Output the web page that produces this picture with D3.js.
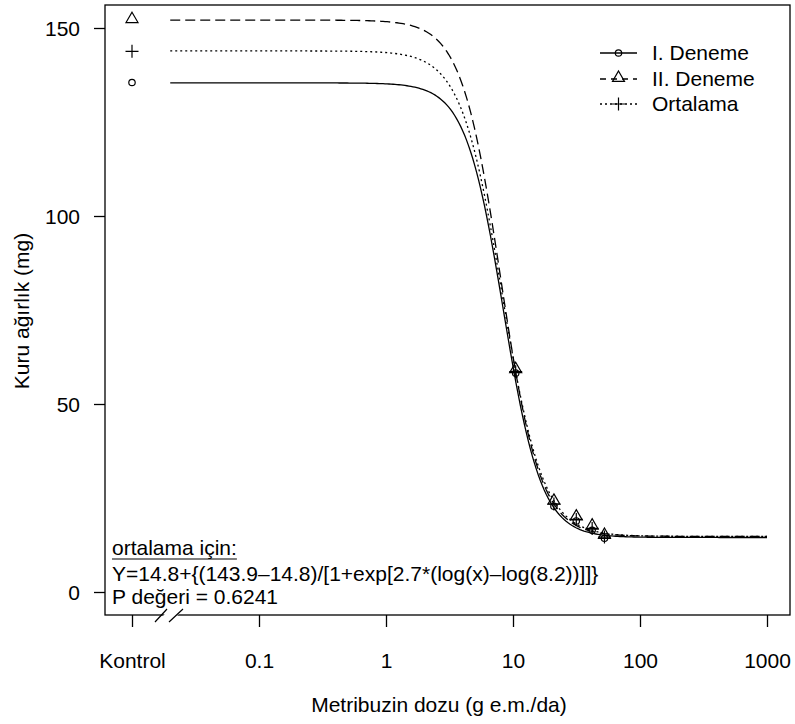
<!DOCTYPE html>
<html>
<head>
<meta charset="utf-8">
<script src="https://cdn.jsdelivr.net/npm/d3@7"></script>
<style>
  html, body { margin: 0; padding: 0; background: #fff; }
  svg { display: block; }
  text { font-family: "Liberation Sans", Arial, sans-serif; fill: #000; }
</style>
</head>
<body>
<svg id="chart" width="795" height="724"></svg>
<script>
// Doses (g e.m./da); the control is shown at the broken-axis position 0.01
const doses = [10.5, 21, 31.5, 42, 52.5];
const controlDose = 0.01;

// Observed mean dry weights (mg)
const seriesNames = ["I. Deneme", "II. Deneme", "Ortalama"];
const controlValues = [135.5, 152.1, 143.8];
const deneme1 = [58.2, 22.8, 18.9, 16.4, 14.3];
const deneme2 = [59.0, 24.0, 19.8, 17.4, 14.9];
const ortalama = [58.6, 23.4, 19.3, 16.9, 14.6];

// Log-logistic model parameters [c (lower), d (upper), b (slope), e (ED50)]
const fit1 = [14.5, 135.4, 2.9, 8.4];
const fit2 = [14.8, 152.1, 2.8, 8.0];
const fitMean = [14.8, 143.9, 2.7, 8.2];

// Axis ticks
const xTickValues = [0.01, 0.1, 1, 10, 100, 1000];
const xTickLabels = ["Kontrol", "0.1", "1", "10", "100", "1000"];
const yTickValues = [0, 50, 100, 150];

const FS = 21;
const svg = d3.select("#chart");
const box = { left: 105, right: 790, top: 5, bottom: 615 };

const x = d3.scaleLog().domain([0.01, 1000]).range([132, 767]);
const y = d3.scaleLinear().domain([0, 150]).range([592, 28]);

const series = [
  { name: seriesNames[0], ctrl: controlValues[0], obs: deneme1, fit: fit1, dash: null, shape: "circle" },
  { name: seriesNames[1], ctrl: controlValues[1], obs: deneme2, fit: fit2, dash: "10,5", shape: "triangle" },
  { name: seriesNames[2], ctrl: controlValues[2], obs: ortalama, fit: fitMean, dash: "2,3", shape: "plus" }
];

function model(p, dose) {
  const [c, d, b, e] = p;
  return c + (d - c) / (1 + Math.exp(b * (Math.log(dose) - Math.log(e))));
}

// dose grid for the fitted curves
const grid = d3.range(0, 301).map(i => Math.pow(10, Math.log10(0.02) + i * (Math.log10(1000) - Math.log10(0.02)) / 300));

const line = d3.line().x(d => x(d[0])).y(d => y(d[1]));

// fitted curves
series.forEach(s => {
  svg.append("path")
    .datum(grid.map(g => [g, model(s.fit, g)]))
    .attr("d", line)
    .attr("fill", "none")
    .attr("stroke", "#000")
    .attr("stroke-width", 1.3)
    .attr("stroke-dasharray", s.dash);
});

function marker(g, shape, cx, cy) {
  if (shape === "circle") {
    g.append("circle").attr("cx", cx).attr("cy", cy).attr("r", 3.2)
      .attr("fill", "none").attr("stroke", "#000").attr("stroke-width", 1.2);
  } else if (shape === "triangle") {
    const s = 12, h = s * Math.sqrt(3) / 2;
    g.append("path")
      .attr("d", `M${cx},${cy - h * 2 / 3 - 1}L${cx + s / 2},${cy + h / 3 - 1}L${cx - s / 2},${cy + h / 3 - 1}Z`)
      .attr("fill", "none").attr("stroke", "#000").attr("stroke-width", 1.2);
  } else {
    const a = 6.5;
    g.append("path")
      .attr("d", `M${cx - a},${cy}H${cx + a}M${cx},${cy - a}V${cy + a}`)
      .attr("fill", "none").attr("stroke", "#000").attr("stroke-width", 1.2);
  }
}

// observed points
const pts = svg.append("g");
series.forEach(s => {
  marker(pts, s.shape, x(controlDose), y(s.ctrl));
  s.obs.forEach((v, i) => marker(pts, s.shape, x(doses[i]), y(v)));
});

// plot frame
svg.append("rect")
  .attr("x", box.left).attr("y", box.top)
  .attr("width", box.right - box.left).attr("height", box.bottom - box.top)
  .attr("fill", "none").attr("stroke", "#000").attr("stroke-width", 1.3);

// x axis
const xAxis = d3.axisBottom(x).tickValues(xTickValues).tickSize(12).tickFormat((d, i) => xTickLabels[i]);
const gx = svg.append("g").attr("transform", `translate(0,${box.bottom})`).call(xAxis);
gx.select(".domain").remove();
gx.selectAll(".tick line").attr("stroke", "#000").attr("stroke-width", 1.3);
gx.selectAll(".tick text").attr("font-size", FS).attr("y", 38).attr("dy", "0.71em").attr("font-family", "Liberation Sans, Arial, sans-serif");

// y axis
const yAxis = d3.axisLeft(y).tickValues(yTickValues).tickSize(11).tickFormat(d3.format("d"));
const gy = svg.append("g").attr("transform", `translate(${box.left},0)`).call(yAxis);
gy.select(".domain").remove();
gy.selectAll(".tick line").attr("stroke", "#000").attr("stroke-width", 1.3);
gy.selectAll(".tick text").attr("font-size", FS).attr("x", -25).attr("dy", "0.35em").attr("font-family", "Liberation Sans, Arial, sans-serif");

// axis break between control and dose range
const brk = svg.append("g");
brk.append("path").attr("d", "M158,622L169,609L183,609L172,622Z").attr("fill", "#fff");
brk.append("path").attr("d", "M155,622L167,609M169,622L183,609")
  .attr("stroke", "#000").attr("stroke-width", 1.2).attr("fill", "none");

// axis titles
svg.append("text").attr("x", 439).attr("y", 712)
  .attr("text-anchor", "middle").attr("font-size", FS).text("Metribuzin dozu (g e.m./da)");
svg.append("text").attr("transform", `translate(29,311) rotate(-90)`)
  .attr("text-anchor", "middle").attr("font-size", FS).text("Kuru ağırlık (mg)");

// legend
const leg = svg.append("g");
const legRows = [53, 79, 104];
const legDash = [null, "6,5", "2,3"];
series.forEach((s, i) => {
  leg.append("line").attr("x1", 600).attr("x2", 637).attr("y1", legRows[i]).attr("y2", legRows[i])
    .attr("stroke", "#000").attr("stroke-width", 1.3).attr("stroke-dasharray", legDash[i]);
  marker(leg, s.shape, 618.5, legRows[i]);
  leg.append("text").attr("x", 652).attr("y", legRows[i] + 7).attr("font-size", FS).text(s.name);
});

// model annotation
const ann = svg.append("g");
const t1 = ann.append("text").attr("x", 112).attr("y", 555).attr("font-size", FS).text("ortalama için:");
const w1 = t1.node().getComputedTextLength();
ann.append("line").attr("x1", 112).attr("x2", 112 + w1).attr("y1", 559).attr("y2", 559)
  .attr("stroke", "#000").attr("stroke-width", 1.2);
ann.append("text").attr("x", 112).attr("y", 581).attr("font-size", FS)
  .text(`Y=${fitMean[0]}+{(${fitMean[1]}–${fitMean[0]})/[1+exp[${fitMean[2]}*(log(x)–log(${fitMean[3]}))]]}`);
ann.append("text").attr("x", 112).attr("y", 604).attr("font-size", FS).text("P değeri = 0.6241");
</script>
</body>
</html>
